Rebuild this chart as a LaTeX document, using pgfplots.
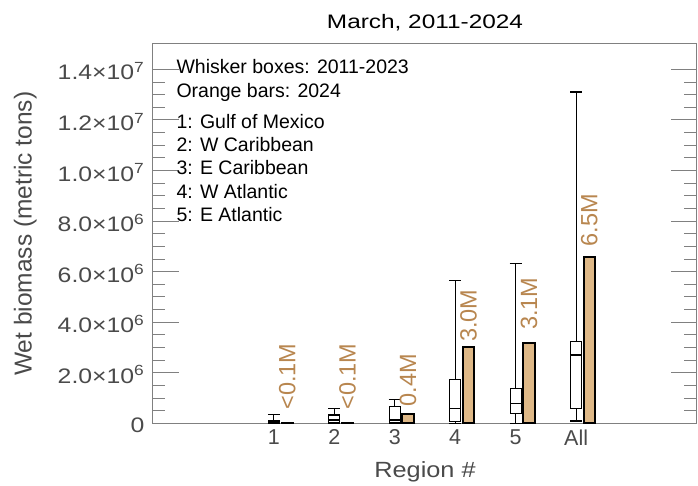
\documentclass[border=0pt]{standalone}
\usepackage{pgfplots}
\pgfplotsset{compat=1.18}
\usepgfplotslibrary{statistics}
\usepackage{fontspec}
\setmainfont{Liberation Sans}
\definecolor{burly}{HTML}{DEB887}
\definecolor{labc}{HTML}{B8864F}
\definecolor{axgray}{HTML}{808080}
\definecolor{txtgray}{HTML}{4A4A4A}
\newcommand{\tl}[2]{\scalebox{1.18}[1]{#1×10\textsuperscript{#2}}}
\begin{document}
\begin{tikzpicture}
\begin{axis}[
  at={(0pt,0pt)}, anchor=south west,
  scale only axis, width=544pt, height=379.3pt,
  xmin=-1, xmax=8, ymin=0, ymax=1.5e7,
  xtick={1,2,3,4,5,6}, xticklabels={1,2,3,4,5,All},
  xtick style={draw=none},
  ytick={0,2e6,4e6,6e6,8e6,1e7,1.2e7,1.4e7},
  yticklabels={\scalebox{1.18}[1]{0},\tl{2.0}{6},\tl{4.0}{6},\tl{6.0}{6},\tl{8.0}{6},\tl{1.0}{7},\tl{1.2}{7},\tl{1.4}{7}},
  minor y tick num=3,
  major tick length=26pt, minor tick length=12.5pt,
  tick style={axgray, line width=0.8pt},
  axis line style={axgray, line width=1pt},
  scaled y ticks=false,
  yticklabel style={font=\fontsize{21}{21}\selectfont, text=txtgray, xshift=-5pt, yshift=-2pt},
  xticklabel style={font=\fontsize{21.5}{21.5}\selectfont, text=txtgray, yshift=-3pt},
  clip=false,
  boxplot/draw direction=y,
]
% whisker boxes 2011-2023
\addplot[boxplot prepared={draw position=1, lower whisker=0, lower quartile=1e4, median=5e4, upper quartile=1.1e5, upper whisker=3.6e5, box extend=0.18, whisker extend=0.2}, draw=black, fill=white, line width=1.2pt] coordinates {};
\addplot[boxplot prepared={draw position=2, lower whisker=0, lower quartile=3e4, median=1.3e5, upper quartile=3.3e5, upper whisker=5.9e5, box extend=0.18, whisker extend=0.2}, draw=black, fill=white, line width=1.2pt] coordinates {};
\addplot[boxplot prepared={draw position=3, lower whisker=0, lower quartile=3e4, median=1.3e5, upper quartile=6.6e5, upper whisker=9.5e5, box extend=0.18, whisker extend=0.2}, draw=black, fill=white, line width=1.2pt] coordinates {};
\addplot[boxplot prepared={draw position=4, lower whisker=0, lower quartile=6e4, median=6e5, upper quartile=1.74e6, upper whisker=5.66e6, box extend=0.18, whisker extend=0.2}, draw=black, fill=white, line width=1.2pt] coordinates {};
\addplot[boxplot prepared={draw position=5, lower whisker=0, lower quartile=4.0e5, median=7.9e5, upper quartile=1.38e6, upper whisker=6.32e6, box extend=0.18, whisker extend=0.2}, draw=black, fill=white, line width=1.2pt] coordinates {};
\addplot[boxplot prepared={draw position=6, lower whisker=9e4, lower quartile=5.9e5, median=2.7e6, upper quartile=3.25e6, upper whisker=1.31e7, box extend=0.18, whisker extend=0.2}, draw=black, fill=white, line width=1.2pt] coordinates {};
% 2024 bars
\addplot[ybar, bar shift=0pt, bar width=0.187, fill=burly, draw=black, line width=2pt]
  coordinates {(1.22,3e4) (2.22,3e4) (3.22,3.5e5) (4.22,3.0e6) (5.22,3.16e6) (6.22,6.56e6)};
% value labels
\addplot[draw=none, mark=none, nodes near coords, point meta=explicit symbolic,
  nodes near coords style={rotate=90, anchor=west, inner sep=0pt, text=labc, font=\fontsize{23.5}{24}\selectfont}]
  coordinates {(1.22,5.3e5)[<0.1M] (2.22,5.3e5)[<0.1M] (3.22,6.6e5)[0.4M] (4.22,3.22e6)[3.0M] (5.22,3.69e6)[3.1M] (6.22,6.98e6)[6.5M]};
% texts
\node[anchor=base west, font=\fontsize{19.5}{20}\selectfont] at ([xshift=20pt,yshift=-30pt]rel axis cs:0,1) {Whisker boxes: 2011-2023};
\node[anchor=base west, font=\fontsize{19.5}{20}\selectfont] at ([xshift=20pt,yshift=-53.3pt]rel axis cs:0,1) {Orange bars: 2024};
\node[anchor=base west, font=\fontsize{19.5}{20}\selectfont] at ([xshift=20pt,yshift=-84.3pt]rel axis cs:0,1) {1: Gulf of Mexico};
\node[anchor=base west, font=\fontsize{19.5}{20}\selectfont] at ([xshift=20pt,yshift=-107.7pt]rel axis cs:0,1) {2: W Caribbean};
\node[anchor=base west, font=\fontsize{19.5}{20}\selectfont] at ([xshift=20pt,yshift=-131pt]rel axis cs:0,1) {3: E Caribbean};
\node[anchor=base west, font=\fontsize{19.5}{20}\selectfont] at ([xshift=20pt,yshift=-154.3pt]rel axis cs:0,1) {4: W Atlantic};
\node[anchor=base west, font=\fontsize{19.5}{20}\selectfont] at ([xshift=20pt,yshift=-177.7pt]rel axis cs:0,1) {5: E Atlantic};
\node[anchor=base, font=\fontsize{19.5}{20}\selectfont] at ([yshift=15.7pt]rel axis cs:0.5,1) {\scalebox{1.25}[1]{March, 2011-2024}};
\node[anchor=base, font=\fontsize{22}{22}\selectfont, text=txtgray] at ([yshift=-54.5pt]rel axis cs:0.5,0) {\scalebox{1.15}[1]{Region \#}};
\node[anchor=base, rotate=90, font=\fontsize{24.5}{25}\selectfont, text=txtgray] at ([xshift=-121.3pt]rel axis cs:0,0.5) {Wet biomass (metric tons)};
\end{axis}
\pgfresetboundingbox
\path[use as bounding box] (-153pt,-62.7pt) rectangle (545pt,423.3pt);
\end{tikzpicture}
\end{document}
